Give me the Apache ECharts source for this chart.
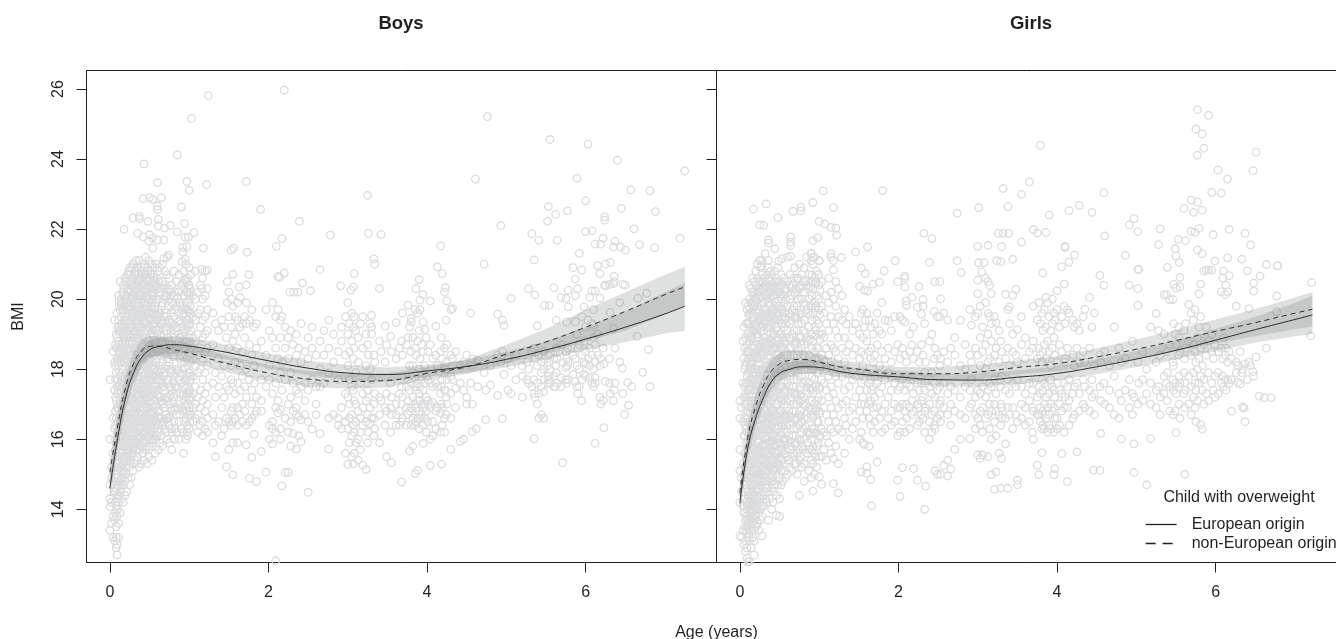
<!DOCTYPE html>
<html><head><meta charset="utf-8"><style>html,body{margin:0;padding:0;background:#fff;overflow:hidden}#c{width:1336px;height:639px}</style>
<script src="https://cdn.jsdelivr.net/npm/echarts@6/dist/echarts.min.js"></script></head><body><div id="c"></div>
<script>
var xTicks=[0,2,4,6];
var yTicks=[14,16,18,20,22,24,26];
// Each row: age, then the BMI values read at that age
var boysDense=[
[0,17.7,16,14.7,14.3,14.07,13.4],[.02,15.2,14.9,14.2,13.6],[.04,18.5,16.6,15.6,14.8,13.8,13.2],[.06,19.4,18.2,17.4,16.3,15.2,14.5,13.7,13.1],
[.08,19,18.6,17.9,17.1,16.6,15.9,15.2,14.6,14.1,13.5,13.2,12.9],[.09,19.6,18.9,18.3,17.5,16.9,16.2,15.5,14.9,14.3,13.8,13,12.7],
[.11,20.1,19.4,18.8,18.1,17.4,16.7,16.1,15.4,14.8,14.2,13.6,13.2],[.13,20.5,19.7,19.1,18.5,17.8,17.2,16.5,15.8,15.2,14.5,13.9],
[.15,19.9,19.3,18.7,18,17.5,16.8,16.2,15.6,14.9,14.3],[.17,20.4,19.6,19,18.4,17.7,17.1,16.4,15.9,15.3,14.7,14.2],
[.19,20.6,20,19.4,18.8,18.2,17.6,17,16.5,16,15.4,14.8,14.4],[.21,20.1,19.5,18.9,18.3,17.8,17.3,16.7,16.1,15.6,15,14.5],
[.23,20.7,20.2,19.7,19.1,18.5,17.9,17.2,16.6,16,15.5,14.9],[.25,20.9,20.4,19.8,19.2,18.6,18,17.4,16.9,16.3,15.7,15.2,14.7],
[.27,20.5,19.9,19.3,18.7,18.1,17.6,17.1,16.5,15.9,15.3,14.9],[.29,21,20.6,20,19.5,18.9,18.3,17.7,17.2,16.7,16.1,15.6,15.1],
[.31,20.3,19.7,19.1,18.6,18,17.5,16.9,16.4,15.8,15.3],[.33,21.1,20.7,20.1,19.6,19,18.4,17.8,17.3,16.7,16.2,15.7,15.4],
[.35,20.9,20.4,19.8,19.3,18.7,18.2,17.6,17,16.5,16,15.5],[.37,21.1,20.5,20,19.5,18.9,18.3,17.7,17.1,16.6,16.1,15.7,15.2],
[.39,20.8,20.2,19.6,19.1,18.5,18,17.4,16.8,16.3,15.8,15.3],[.41,20.6,20.1,19.5,18.9,18.4,17.9,17.3,16.7,16.2,15.6],
[.43,21,20.4,19.9,19.3,18.7,18.1,17.5,17,16.4,15.9,15.4],[.45,21.2,20.7,20.2,19.6,19,18.5,17.9,17.3,16.8,16.2,15.7],
[.47,20.9,20.3,19.8,19.2,18.6,18,17.4,16.9,16.3,15.8,15.3],[.49,21.1,20.6,20,19.4,18.8,18.3,17.7,17.2,16.6,16.1,15.5],
[.51,20.8,20.2,19.6,19.1,18.5,17.9,17.3,16.7,16.2],[.53,21,20.5,19.9,19.3,18.7,18.1,17.6,17,16.5,15.9,15.4],
[.55,20.7,20.1,19.5,19,18.4,17.8,17.2,16.6,16],[.57,20.9,20.4,19.8,19.2,18.6,18,17.5,16.9,16.4,15.6],
[.59,21,20.6,20,19.4,18.9,18.3,17.7,17.1,16.5,16.1],[.61,20.8,20.2,19.7,19.1,18.5,17.9,17.4,16.8,16.2,15.7],
[.63,20.9,20.3,19.6,19,18.4,17.8,17.2,16.6,15.9],[.66,21,20.5,19.9,19.3,18.7,18.2,17.6,17,16.4,15.8],
[.69,20.8,20.3,19.7,19.2,18.6,18,17.4,16.9,16.3],[.72,20.7,20.2,19.5,18.9,18.3,17.7,17.1,16.6,16],
[.75,20.6,20,19.4,18.8,18.2,17.5,17,16.4,15.9],[.78,20.4,19.9,19.3,18.7,18,17.4,16.8,16.2,15.7],
[.81,20.8,20.1,19.5,19,18.4,17.8,17.2,16.5,16],[.84,20.5,19.8,19.2,18.6,18,17.3,16.7,16.2],
[.87,20.7,20.2,19.6,19,18.5,17.7,17,16.5,16],[.9,20.4,19.8,19.3,18.7,18.2,17.6,16.9,16.3],
[.93,20.8,20.1,19.7,19.1,18.6,18,17.5,16.8,16.2,15.6],[.96,21,20.5,19.9,19.4,18.8,18.3,17.7,17.2,16.6,16],
[.98,20.6,20.2,19.7,19.2,18.7,18.1,17.5,17,16.4,16.1],[1,20.9,20.4,20,19.5,19,18.5,17.9,17.4,16.8,16.3],
[1.02,20.7,20.2,19.6,19.1,18.6,18.2,17.7,17.2,16.7],[1.05,20.1,19.5,18.9,18.3,17.8,17.3,16.9,16.5],
[1.08,20,19.4,18.8,18.1,17.5,17,16.6],[1.11,20.2,19.6,19,18.4,17.9,17.2,16.7,16.2],
[1.14,20.4,19.7,19.2,18.6,18,17.4,16.9,16.4],[1.17,20.6,20,19.4,18.9,18.3,17.7,17.1,16.5,16.1],
[1.2,20.8,20.1,19.5,19,18.5,17.9,17.3,16.8,16.3],[1.23,20.3,19.7,19.1,18.6,18.1,17.5,17,16.6,16.2]
];
var boysCore=[
[.07,18.7,18.1,17.7,17.2,16.8,16.4,16,15.7,15.3,14.9,14.5,14.2,13.9],[.1,19.2,18.6,18.2,17.7,17.3,16.9,16.5,16.2,15.8,15.5,15.1,14.7,14.4,14],[.12,19.8,19.2,18.7,18.3,17.9,17.5,17,16.6,16.3,15.9,15.6,15.2,14.8,14.4],[.14,20,19.5,19.1,18.6,18.2,17.8,17.4,17,16.6,16.3,15.9,15.5,15.1,14.7],[.16,20.2,19.7,19.2,18.8,18.4,18,17.6,17.2,16.8,16.4,16.1,15.7,15.3,15],[.18,20.3,19.8,19.4,19,18.6,18.2,17.8,17.4,17,16.6,16.2,15.8,15.5,15.1],[.2,20.5,20,19.6,19.2,18.7,18.3,17.9,17.5,17.1,16.7,16.3,15.9,15.6,15.2],[.22,20.7,20.3,19.9,19.4,19,18.6,18.2,17.7,17.3,16.9,16.5,16.1,15.8,15.4],[.24,20.8,20.5,20,19.6,19.2,18.8,18.4,18,17.6,17.1,16.7,16.3,15.9,15.6],[.26,20.7,20.2,19.7,19.4,18.9,18.5,18.2,17.8,17.3,16.9,16.6,16.2,15.8,15.4],[.28,20.9,20.4,20.1,19.6,19.2,18.8,18.4,18,17.6,17.2,16.8,16.4,16,15.7],[.3,21,20.6,20.2,19.8,19.4,19,18.6,18.2,17.8,17.4,17,16.6,16.2,15.9],[.32,20.8,20.4,19.9,19.5,19.1,18.7,18.3,17.9,17.5,17.1,16.7,16.3,15.9],[.34,20.9,20.5,20,19.7,19.2,18.9,18.5,18.1,17.7,17.3,16.9,16.5,16.1],[.36,20.7,20.2,19.8,19.4,19,18.6,18.2,17.8,17.4,17,16.6,16.3,15.9],[.38,20.6,20.1,19.7,19.2,18.8,18.4,18,17.6,17.2,16.9,16.5,16.1,15.7],[.4,20.9,20.4,20,19.6,19.2,18.7,18.3,17.9,17.5,17.1,16.6,16.2,15.8],[.42,20.7,20.3,19.7,19.4,18.9,18.5,18.1,17.7,17.3,16.9,16.5,16,15.6],[.44,20.9,20.4,20,19.5,19.1,18.7,18.3,17.8,17.4,17,16.6,16.2],[.46,20.6,20.2,19.7,19.3,18.9,18.4,18,17.6,17.2,16.7,16.3,15.9],[.48,20.8,20.4,19.9,19.5,19.1,18.7,18.2,17.8,17.4,16.9,16.5,16.1],[.5,20.5,20,19.6,19.2,18.8,18.3,17.9,17.5,17.1,16.6,16.2,15.8],[.52,20.7,20.3,19.8,19.4,19,18.6,18.1,17.7,17.3,16.8,16.4,16],[.54,20.4,20,19.6,19.1,18.7,18.2,17.8,17.4,16.9,16.5,16.1],[.56,20.6,20.2,19.7,19.3,18.8,18.4,18,17.5,17.1,16.7,16.3],[.58,20.3,19.9,19.5,19.1,18.6,18.2,17.8,17.4,17,16.5,16],[.62,20.5,20,19.5,19.2,18.7,18.1,17.7,17.2,16.8,16.3],[.65,20.3,19.8,19.3,18.9,18.4,18,17.5,17.1,16.6,16.1],[.68,20.4,20,19.5,19,18.4,17.9,17.5,16.9,16.5],[.71,20.1,19.6,19.1,18.6,18.1,17.6,17.2,16.7,16.2],[.74,20.3,19.8,19.2,18.7,18.1,17.7,17.2,16.6],[.77,20.1,19.6,19.1,18.5,17.9,17.5,16.9,16.3],[.82,20.2,19.7,19.1,18.5,17.9,17.5,16.9,16.3],[.88,19.9,19.4,18.9,18.3,17.9,17.3,16.7],[.94,20.3,19.6,19.2,18.8,18.2,17.7,17.1,16.5],[.97,20.2,19.7,19.3,18.8,18.3,17.8,17.3,16.8,16.2],[.99,20.4,19.9,19.4,18.9,18.4,17.9,17.3,16.7],[1.01,20.3,19.8,19.3,18.8,18.4,17.8,17.4,16.9,16.5]
];
var boysFill=[
[.115,19.95,19.05,18.45,17.55,16.85,16.05,15.35,14.65],[.145,19.85,19.25,18.35,17.65,16.95,16.15,15.45,14.85],[.175,20.15,19.15,18.25,17.25,16.75,15.85,15.05],[.205,19.85,19.05,18.55,17.65,16.85,16.15,15.35],[.235,20.25,19.35,18.75,17.85,17.05,16.45,15.65],[.265,20.05,19.15,18.35,17.65,17.15,16.35,15.55],[.295,20.35,19.65,18.75,17.95,17.35,16.55,15.75],[.325,20.25,19.35,18.55,17.75,17.05,16.45,15.95],[.355,20.55,19.55,18.85,18.05,17.25,16.75,16.05],[.385,20.35,19.45,18.65,17.75,17.05,16.35,15.85],[.415,20.45,19.75,18.75,18.15,17.45,16.55,16.15],[.445,20.25,19.35,18.55,17.65,17.15,16.45,15.95],[.475,20.55,19.65,18.85,18.15,17.35,16.65,16.05],[.505,20.35,19.45,18.65,17.75,17.05,16.35],[.535,20.15,19.25,18.45,17.85,17.25,16.75],[.565,20.45,19.55,18.75,18.05,17.35,16.55],[.6,20.35,19.55,18.65,17.95,17.25,16.65],[.64,20.15,19.35,18.55,17.65,17.05,16.45],[.7,20.05,19.35,18.45,17.85,17.15,16.55],[.76,20.25,19.35,18.55,17.95,17.25,16.65],[.8,19.85,19.25,18.35,17.65,17.05],[.86,20.05,19.35,18.75,17.95,17.45,16.85],[.92,20.45,19.55,18.95,18.35,17.85,17.25],[.95,20.55,19.75,19.05,18.55,18.05,17.45,16.95],[1,20.15,19.65,19.25,18.75,18.25,17.65,17.15]
];
var boysSparse=[
[1.24,25.81],[2.2,25.97],[1.03,25.16],[.85,24.12],[.43,23.86],[.6,23.33,22.66,22.56,21.69],[.97,23.36,21.5],[1,23.11],[1.22,23.27],[1.72,23.36],[.42,22.87,21.78],[.5,22.9,21.84],[.54,22.85,21.75,21.46],[.65,22.9],[.9,22.63],[1.9,22.56],[2.39,22.22],[.29,22.32],[.37,22.37,22.3],[.48,22.22],[.61,22.28,22.09],[.69,22.03],[.76,22.11],[.94,22.16],[.18,22],[.35,21.88],[.49,21.66],[.68,21.69,21.16],[.85,21.92],[.95,21.77,21.14],[.99,21.77],[1.06,21.9],[2.78,21.83],[2.17,21.73],[2.1,21.51],[.92,21.48,21.35],[1.18,21.46],[1.53,21.4],[1.56,21.46],[1.73,21.34],[.74,21.26],[.72,21.2],[.91,21.07],
[1.08,20.8],[1.16,20.85,20.3],[1.23,20.83],[1.55,20.71],[1.75,20.7],[2.12,20.65],[2.14,20.62],[2.2,20.75],[2.43,20.46],[2.65,20.84],[2.91,20.38],[1.48,20.5,19.9],[1.72,20.41],[1.63,20.35],[2.27,20.2],[2.32,20.2],[2.37,20.2],[2.53,20.24],[3.04,20.26],
[1.3,19.6,18.7,17.6,16.7,15.9],[1.33,19.3,17.9,17.2,16.4,15.5],[1.37,19.1,18.3,17.5,16.5],[1.41,19.4,17.8,16.9,16.1],[1.44,19.2,18.1,17.2,16.3],[1.47,18.9,17.5,16.6,15.21],[1.5,20.2,19.5,18.6,17.4,16.5,15.7],[1.53,20,19.2,18.1,17.7,16.8,16.4],[1.55,19.8,18.8,17.6,16.9,16.5,15.9,14.98],[1.58,19.5,19,18.2,17.3,16.6],[1.61,19.9,19.4,18.6,17.6,16.9,16.4,15.9],[1.64,20.05,19.2,18.1,17.4,16.7],[1.67,19.3,18.5,17.8,17,16.5],[1.7,19.5,18.9,17.5,16.8],[1.72,19.9,19.3,18,17.2,16.4,15.84],[1.76,19.4,18.7,17.7,16.5,14.88],[1.79,19.7,18.4,17.4,17,16.6,15.48],[1.82,19.2,18.1,17.6,16.7,16.14],[1.85,19.3,18.6,17.2,16.8,14.79],[1.91,18.8,17.7,17.1,16.8,15.65],[1.97,19.7,18.4,17.5,15.06],[2.01,19.1,18.1,17.7,16.4,16],[2.05,19.9,18.9,17.3,16.5,16.3,15.87],[2.09,19.5,18.6,17.6,16.9,16.2,12.53],[2.12,19.7,18.3,17.1,16.75],[2.15,19.4,18.9,17.9,16.85,16.3,16],[2.17,19.5,18.2,17.4,14.67],[2.21,19.2,18.6,17.7,16.6,15.05],[2.25,18.9,18.3,17,16.2,15.05],[2.28,19.1,17.9,17.2,16.5,15.8],[2.31,18.7,17.6,16.8,16.16],[2.35,19,18.4,17.4,16.9,16.7,15.72],[2.38,18.6,17.3,16.65,16.1],[2.41,19.3,18.2,17.5,16.55,15.93],[2.46,18.5,17.6,17.1,16.7],[2.5,18.9,18.3,17.4,16.5,14.48],[2.55,19.2,18.6,17.7,16.29],[2.6,18.4,17.5,17,16.7],[2.65,18.8,18,17.5,16.16],[2.7,19.1,18.4,17.6],[2.76,19.4,18.6,17.9,16.6,15.72],[2.82,19,18.2,16.7],[2.88,18.5,17.7,16.6,16.4],[2.92,19.2,18.8,16.9,16.3],[2.97,19.5,18.4,17.3,16.5,15.6],[3,19.9,19,18.1,17.2,16.3,15.28],
[3.02,19.3,18.5,17.7,17,16.6,15.9],[3.05,19.6,18.8,17.5,16.7,16.1,15.5],[3.07,20.35,19.2,18.3,17.4,16.4,15.3],[3.08,20.73,19.5,18.6,17.1,16.2,15.6],[3.1,19.1,17.9,17,16.5,15.9],[3.13,18.9,18.2,16.8,16,15.4],[3.16,19.3,17.6,16.6,16.2,15.7],[3.19,19.5,18.6,17.3,16.9,16.4,15.26],[3.23,19,18.1,17.1,16.5,15.14],[3.25,22.96,18.7,17.4,16.7,15.9],[3.26,21.88,18.4,17.2,16.2],[3.28,19.3,18,16.9,16.45],[3.3,19.54,19.2,19,17.7,16.6],[3.33,21.15,18.4,17,16.6,16.1],[3.34,21,18.2,17.3,16.3],[3.4,20.3,18.8,17.2,16.7,15.9],[3.42,21.85,18.5,17.1],[3.47,19.23,18.2,16.9,16.4],[3.49,18.7,17.3,16.8,15.5],[3.54,18.94,17.6,16.9,16.2],[3.55,18.5,17.2,16.7,15.33],[3.61,19.33,18.3,17,16.7,16.4],[3.65,18.6,17.3,16.8,16.4],[3.68,18.8,17.5,17,16.5,14.78],[3.69,19.6,18.4,17.2,16.6],[3.74,18.7,17.5,16.9,16.4],[3.76,19.83,18.9,17.7,17.1,16.7],[3.78,19.2,18.1,17.4,16.8,15.66],[3.8,19.45,19.35,18.5,17.6,16.9,16.4],[3.82,18.9,18.1,17.2,16.6,15.8],[3.85,19.7,18.6,17.5,17,16.4,15.02],[3.86,20.3,18.4,17.4,16.9,16.5],[3.88,19.6,18.8,17.6,17.1,16.6,15.11],[3.9,20.56,19.1,18,17.3,16.8,16.3],[3.91,19.97,19.7,18.3,17.5,17.1,16.6],[3.93,18.7,17.7,17,16.7],[3.95,20.13,19.35,18.5,17.4,16.9,16.4,15.88],[3.97,19.13,18.1,17.6,17,16.6],[3.99,18.9,17.8,17.2,16.8,16.2],[4.01,18.5,17.7,17.1,16.5],[4.04,19.95,18.7,17.6,17,16.9,16,15.25],[4.07,18.3,17.5,17.05,16.5,16.1],[4.11,19.23,18.4,17.6,16.8,16.3],[4.13,20.92,18.1,17.5,16.9],[4.17,21.52,18.5,17.3,16.75,16.2],[4.18,18.9,17.5,17,15.29],[4.19,20.73,18.3,17.7,16.9,16.4],[4.22,20.2,18.6,17.4,16.6,16.2],[4.24,19.4,18.2,17.2,16.7],[4.25,19.95,18.7,17.7,17],[4.23,20.33,18,17.4],[4.3,19.7,18.4,17.8,17.3,16.6,15.71],[4.32,19.73,18.3,17.7],[4.36,18.5,17.45,16.9],[4.42,18.1,17.6,15.94],[4.46,18.2,17.4,16],[4.5,18.4,17.2,17],[4.55,19.6,18.1,17.6],[4.57,18.3,17,16.22],[4.61,23.43],[4.62,16.3],[4.64,18.25,17.5],[4.72,21,17.9],[4.74,17.4,16.56],[4.76,25.21],[4.8,18.1,17.55],[4.89,19.57,18.4,17.25],[4.93,22.1,18.2],[4.95,19.4,18.5,16.59],[4.97,19.25,17.85],[5.02,18.3,17.4],[5.06,20.02,18.1,17.3],[5.12,18.4,17.7],[5.2,18.1,17.8,17.2],[5.26,18.2,17.7],[5.28,20.3,18,17.6],[5.32,21.87,18.5,17.5],[5.35,21.12,18.6,17.7,17.3,16.02],[5.36,20.12,18.3,17.2],[5.39,19.24,18.1,17.6,17],[5.41,21.68,18.4,17.3,16.6],[5.44,18.2,17.9,17.5,16.7],[5.47,18.5,18,17.35,16.6],[5.48,19.82,18.3,17.7],[5.52,22.23,18.1,17.6],[5.53,22.64,18.4,17.8],[5.54,19.82,18.2,17.7],[5.55,24.56,18,17.6],[5.6,20.33,18.3,17.8,17.5],[5.62,22.42,18.1,17.5],[5.63,19.4,18.6,17.9],[5.64,21.68,18.3,17.6],[5.69,20.05,18.7,17.75,17.5],[5.71,18.2,15.33],[5.75,20.02,18.5,18.05,17.7],[5.76,19.35,18.3,17.6],[5.77,22.52,18.6,18.1],[5.78,20.26,19.78,18.2,17.7],[5.84,20.9,18.4,17.85],[5.87,20.57,20.1,19.35,18.3,17.65],[5.89,23.45,19,18.1,17.5],[5.9,20.3,18.6,17.3],[5.92,21.31,18.7,18,17.5],[5.95,20.83,19.5,18.4,17.7,17.1],[5.98,19.78,18.8,18.2,17.85],[6,22.81,21.93,19.2,18.5,18.15,17.8],[6.03,24.43,19.4,18.3],[6.05,20.05,18.6,18.1,17.75],[6.08,21.95,20.23,19.3,18.4,17.6],[6.1,19.7,19.25,18.9,18,17.5],[6.12,20.23,18.7,18.2,17.6,15.88],[6.15,20.96,19,18.4],[6.18,20.73,20.03,18.1,17.2],[6.19,21.57,18.3,17],[6.12,21.57,17.75],[6.22,21.74,18.6,17.1],[6.23,16.33,18.15],[6.24,22.35,22.26,20.4],[6.25,21,20.38,17.65],[6.3,20.42,18.3,17.6],[6.31,21.05,19.62,17.3],[6.35,21.49,19.16,20.44,17.1],[6.36,20.65,20.5,17.4],[6.37,21.66,18.6,17.6],[6.4,23.97],[6.43,19.9,18.2],[6.44,21.49],[6.45,22.59],[6.46,18.03],[6.47,20.42,17.3],[6.49,16.71],[6.5,21.4,20.4],[6.53,17.62],[6.54,16.97],[6.57,23.12],[6.58,17.5],[6.61,22.01],[6.65,18.94],[6.66,20.02],[6.68,21.56],[6.72,17.91],[6.77,20.17],[6.79,18.56],[6.81,23.1,17.5],[6.87,21.47],[6.88,22.5],[7.19,21.74],[7.25,23.66]
];
var girlsDense=[
[0,17.1,16.6,15.7,15.1,14.2,13.24],[.02,16.9,14.9,14.5,13.2],[.04,18.8,17.6,16.5,15.3,14.1,13.4],[.05,19.2,18.3,17.2,16.1,15,13.9,13],
[.07,19.9,18.9,18.1,17.3,16.4,15.6,14.8,13.7,13.1,12.8],[.09,19.7,18.7,17.8,17,16.2,15.4,14.6,14,13.5,12.9,12.6],[.1,19.3,18.5,17.6,16.8,16,15.2,14.4,13.7,13.2,12.5],
[.12,20.4,19.6,18.8,18,17.2,16.5,15.7,15,14.3,13.6,13.1,12.5],[.14,19.9,19.2,18.4,17.7,16.9,16.1,15.4,14.7,14,13.4,12.9],[.16,20.6,19.5,18.7,18,17.3,16.6,15.8,15.1,14.5,13.8,13.2],
[.18,20.2,19.4,18.6,17.9,17.1,16.4,15.7,15,14.4,13.7,13.1,12.69],[.2,20.8,20,19.3,18.5,17.8,17,16.3,15.6,14.9,14.2,13.5],[.22,21,19.8,19,18.3,17.5,16.7,16,15.3,14.6,14,13.6],
[.24,20.5,19.7,18.9,18.2,17.4,16.7,15.9,15.2,14.5,13.9,13.4],[.26,20.9,20.2,19.4,18.6,17.8,17.1,16.4,15.6,15,14.3,13.7],[.28,21.1,20.3,19.5,18.8,18,17.3,16.6,15.8,15.1,14.4,13.8,13.24],
[.3,20.6,19.9,19.1,18.4,17.6,16.9,16.2,15.5,14.8,14.1],[.32,21.3,20.1,19.3,18.6,17.9,17.2,16.5,15.8,15.1,14.3],[.34,20.7,20,19.2,18.5,17.7,17,16.3,15.6,14.9,14.2],
[.36,20.9,20.2,19.5,18.7,18,17.3,16.6,15.9,15.2,14.5,13.69],[.38,20.5,19.8,19,18.3,17.6,16.9,16.2,15.5,14.9,14.3],[.4,20.7,20,19.3,18.5,17.8,17.1,16.4,15.7,15,14.6,14],
[.42,20.4,19.7,19,18.2,17.5,16.8,16.1,15.4,14.8,14.2],[.44,20.8,20.1,19.4,18.6,17.9,17.2,16.5,15.8,15.2,14.7],[.46,20.6,19.9,19.2,18.4,17.7,17,16.3,15.6,15,14.4,13.83],
[.48,20.9,20.2,19.5,18.7,18,17.3,16.6,15.9,15.3,14.7],[.5,20.5,19.8,19,18.3,17.5,16.8,16.2,15.5,14.9,14.3,13.8],[.52,20.7,20,19.3,18.6,17.8,17.1,16.4,15.7,15.1,14.69],
[.54,20.4,19.7,18.9,18.2,17.5,16.7,16,15.4,14.8],[.56,20.6,19.9,19.2,18.4,17.7,17,16.3,15.6,15.1],[.58,20.3,19.6,18.9,18.1,17.4,16.6,16,15.3,14.9],
[.6,21.2,20.5,19.8,19.1,18.4,17.6,16.9,16.2,15.5,15],[.63,20.7,20,19.3,18.6,17.8,17.1,16.4,15.7,15.2],[.66,20.4,19.7,19,18.2,17.5,16.8,16.1,15.5,15.1],
[.69,20.9,20.2,19.5,18.7,18,17.3,16.6,15.9,15.3],[.72,20.6,19.8,19.1,18.4,17.7,17,16.3,15.6,15],[.75,21,20.3,19.6,18.9,18.1,17.4,16.7,16,15.4,14.4],
[.78,20.7,20,19.3,18.6,17.8,17.1,16.5,15.8,15.2],[.81,20.9,20.2,19.4,18.7,18,17.2,16.6,16,15.3,14.8],[.84,21.2,20.4,19.7,18.9,18.2,17.5,16.8,16.2,15.6],
[.87,20.7,20,19.2,18.4,17.6,16.9,16.2,15.7,15.1],[.9,21.3,21.1,20.5,19.8,19,18.2,17.4,16.7,16,15.4,14.9],[.92,21,20.3,19.6,18.8,18,17.3,16.6,15.8,15.3,14.52],
[.94,21.2,20.6,19.9,19.2,18.5,17.7,17,16.3,15.6,15],[.97,20.8,20.1,19.4,18.6,17.9,17.1,16.5,15.8,15.2],[1,21.1,20.4,19.7,19,18.3,17.5,16.8,16.1,15.5,14.93],
[1.03,20.5,19.8,19,18.4,17.7,17.1,16.3,15.5,14.71],[1.06,19.6,18.9,18.2,17.6,16.9,16.2,15.7],[1.09,20.1,19.3,18.6,18,17.4,16.7,16.1,15.4],
[1.12,20.6,19.9,19.1,18.4,17.8,17.2,16.5,15.9],[1.15,21.3,21.2,20.2,19.5,18.7,18.1,17.5,16.9,16.3,15.6],[1.18,21.1,20.84,20,19.3,18.6,17.9,17.3,16.7,16.2,15.45,14.73],
[1.21,20.5,19.8,19.1,18.5,17.8,17.1,16.5,15.8],[1.24,20.3,19.5,18.9,18.3,17.6,16.9,16.3,15.3,14.47]
];
var girlsCore=[
[.06,18.6,18,17.5,17,16.6,16.1,15.6,15.2,14.7,14.3,13.9,13.5],[.08,19.3,18.5,18.2,17.6,17.2,16.8,16.3,15.9,15.5,15.1,14.7,14.2,13.8,13.4],[.1,19.8,19,18.3,17.9,17.4,17.1,16.6,16.2,15.8,15.3,14.9,14.5,14.1,13.5],[.12,20,19.3,18.5,18.3,17.7,17.4,16.9,16.2,15.4,15.2,14.7,14.2,13.9,13.3],[.14,20.3,19.6,18.9,18.2,18,17.5,17.1,16.6,16.4,15.9,15.3,15,14.5,14.1,13.7],[.16,20.2,19.1,18.4,17.7,17,16.4,16.1,15.5,14.9,14.2,13.6],[.18,20.5,19.8,19.1,18.4,17.7,17.4,16.8,16.2,15.4,15.2,14.7,14.1,13.4],[.2,20.4,19.7,19,18.3,18,17.4,16.7,16.1,15.3,15.1,14.6,14,13.8],[.22,20.6,20.2,19.5,18.7,18,17.7,17.1,16.4,15.7,15,14.8,14.3],[.24,20.3,19.4,18.6,17.9,17.1,16.4,15.6,14.9,14.2],[.26,20.5,19.8,19.1,18.3,17.5,16.8,16.1,15.4,14.7,14],[.28,20.7,19.9,19.2,18.5,17.7,17,16.3,15.5,14.8,14.1],[.3,20.3,19.5,18.8,18,17.3,16.6,15.8,15.2,14.5],[.32,20.5,19.7,18.9,18.2,17.5,16.8,16.1,15.4,14.7],[.34,20.4,19.6,18.8,18.1,17.4,16.7,16,15.3,14.6],[.36,20.6,19.9,19.2,18.4,17.7,17,16.3,15.6,14.8],[.38,20.2,19.4,18.7,18,17.3,16.6,15.9,15.2],[.4,20.4,19.7,18.9,18.2,17.5,16.8,16.1,15.4,14.8],[.42,20.1,19.4,18.6,17.9,17.2,16.5,15.8,15.1,14.5],[.44,20.5,19.8,19,18.3,17.6,16.9,16.2,15.5],[.46,20.3,19.6,18.8,18.1,17.4,16.7,16,15.3],[.48,20.5,19.8,19.1,18.4,17.7,17,16.3,15.6],[.5,20.2,19.4,18.7,18,17.2,16.5,15.9,15.2],[.52,20.4,19.7,19,18.3,17.5,16.8,16.1,15.4],[.54,20.1,19.3,18.6,17.9,17.1,16.4,15.7],[.56,20.3,19.6,18.8,18.1,17.4,16.7,16],[.58,20,19.3,18.5,17.8,17.1,16.4,15.7],[.62,20.4,19.6,18.9,18.2,17.5,16.8,16.1,15.4],[.65,20.1,19.4,18.6,17.9,17.2,16.5,15.8],[.68,20.6,19.8,19.1,18.4,17.7,17,16.3,15.6],[.71,20.3,19.5,18.8,18.1,17.3,16.6,15.9,15.3],[.74,20.6,20,19.3,18.5,17.8,17.1,16.4,15.7],[.77,20.4,19.7,18.9,18.2,17.5,16.8,16.2,15.5],[.8,20.5,19.9,19.1,18.4,17.6,17,16.3,15.7],[.86,20.3,19.6,18.8,18,17.3,16.6,15.9],[.91,20.7,20.1,19.4,18.6,17.8,17.1,16.3,15.7],[.96,20.5,19.8,19.1,18.3,17.5,16.8,16.2,15.5],[.99,20.7,20,19.3,18.6,17.9,17.2,16.5,15.9]
];
var girlsFill=[
[.11,19.55,18.75,17.95,17.25,16.45,15.65,14.95,14.15,13.45],[.13,19.75,18.95,18.15,17.45,16.75,15.95,15.25,14.45,13.75],[.15,19.65,18.85,18.05,17.25,16.55,15.75,15.05,14.35],[.17,19.85,19.05,18.25,17.55,16.85,16.05,15.35,14.65,13.95],[.19,20.05,19.25,18.45,17.65,16.95,16.25,15.45,14.75,14.05],[.21,19.95,19.15,18.35,17.55,16.85,16.15,15.35,14.55],[.23,20.15,19.35,18.55,17.75,17.05,16.25,15.55,14.85],[.25,20.25,19.45,18.65,17.95,17.25,16.55,15.75,15.05,14.35],[.27,20.05,19.25,18.45,17.65,16.95,16.15,15.45,14.65],[.29,20.35,19.55,18.75,17.95,17.25,16.55,15.85,15.15],[.31,20.15,19.35,18.55,17.85,17.15,16.35,15.65,14.95],[.33,20.35,19.55,18.75,18.05,17.35,16.65,15.85,15.25],[.35,20.15,19.45,18.65,17.85,17.15,16.45,15.75,15.05],[.37,20.35,19.55,18.85,18.15,17.45,16.75,16.05,15.35],[.39,20.05,19.25,18.55,17.75,17.05,16.35,15.65],[.41,20.25,19.55,18.75,18.05,17.35,16.65,15.95,15.25],[.45,20.15,19.45,18.65,17.95,17.25,16.55,15.85,15.15],[.49,20.35,19.55,18.85,18.15,17.45,16.75,16.05,15.45],[.53,20.15,19.45,18.65,17.95,17.25,16.55,15.85],[.57,20.25,19.45,18.75,18.05,17.35,16.65,15.95],[.64,20.35,19.55,18.85,18.05,17.35,16.65,15.95],[.7,20.15,19.45,18.75,18.05,17.25,16.55,15.85],[.76,20.35,19.55,18.75,18.05,17.25,16.65,15.95],[.83,20.55,19.85,19.05,18.35,17.65,16.95,16.35],[.89,20.35,19.55,18.85,18.15,17.45,16.85,16.15],[.95,20.45,19.75,18.95,18.25,17.55,16.85,16.15],[1.01,20.25,19.55,18.85,18.15,17.45,16.75,16.05]
];
var girlsSparse=[
[1.05,23.09],[1.8,23.1],[.33,22.72],[.17,22.57,20.11,19.92,19.73,19.5],[.92,22.76,21.67],[1.18,22.62],[.77,22.63,22.52],[.67,22.51],[.48,22.33],[.25,22.12,21.11],[.3,22.11],[1,22.22,21.11],[1.07,22.15],[1.15,22.05],[1.21,22.03],[1.22,21.83],[2.74,22.45,21.1],[3.01,22.61,21.04],[3.32,23.16,21.88],[3.38,22.64],[3.55,22.99,21.63],[2.32,21.88],[2.42,21.73],[3.26,21.88],[3.39,21.88],[3,21.51,20.54],[3.13,21.54],[3.3,21.5],[1.61,21.49,20.23],[1.46,21.35,19.31],[1.96,21.1],[2.39,21.05],[3.08,21.04],[3.24,21.1],[3.29,21.07],[3.44,21.14,20.11],[3.05,20.78],[2.79,20.76],[1.82,20.81],[1.53,20.89,19.6],[1.58,20.73,19.4],[.64,21.78,21.63,21.53,21.23],[.36,21.69,21.6,21.11],[.44,21.44],[.98,21.76],[.9,21.3],[.93,21.2],[1.28,21.19],[.53,21.16],[.49,21.09],[.27,20.95],[.38,20.79],[.29,20.49],[.41,20.4,20.33],
[1.29,20.1,19.4,18.6,17.8,17,16.2],[1.32,19.7,18.9,18.2,17.4,16.6,15.6],[1.34,19.29,18.5,17.9,17.1,16.4],[1.38,19.5,18.7,17.5,16.8,16],[1.42,19.1,18.4,17.7,16.9,16.3],[1.46,19.3,18.6,17.8,17.2,16.5],[1.51,20.37,19,18.3,17.4,16.8,16],[1.53,18.5,17.6,17,16.2,15.07],[1.55,19.7,18.9,18.1,17.2,16.6,15.9],[1.57,20.26,19.2,18.4,17.7,17,15.85],[1.6,19.6,18.8,17.9,17.4,16.8,15.21,15.03],[1.63,19.4,18.5,17.6,17,16.6,15.8],[1.65,19.2,18.3,17.7,17.1,16.4,14.85],[1.66,14.1,18.6,17.4],[1.68,20.43,19,18.2,17.5,16.9,16.2],[1.7,19.3,18.4,17.8,17.2,16.5],[1.73,19.6,18.7,17.6,15.35,16.9],[1.76,20.48,19.1,18.1,17.3,16.6],[1.79,19.9,19,18.5,17.5,16.8,16.2],[1.83,19.4,18.3,17.7,17,16.3],[1.87,19.38,18.6,17.9,17.2,16.6],[1.91,19.1,18.2,17.4,16.8,16.4],[1.95,19.5,18.5,17.6,17,16.5],[1.99,20.5,18.7,17.4,16.9,16.1,14.83],[2.02,19.5,18.3,17.5,16.9,16.2,14.37],[2.05,19.4,18.6,17.7,17,16.5,15.19],[2.08,20.66,20.6,20.35,19.35,18.4,17.4,16.8,16.2],[2.1,19.95,19.83,18.2,17.6,17,16.6],[2.14,19,18.5,17.5,16.9,16.3],[2.17,20.05,18.7,17.8,17.1,16.7],[2.19,19.2,18.3,17.3,16.8,15.16],[2.24,19.77,18.5,17.6,17,16.4,14.83],[2.26,20.36,18.2,17.4,16.9,16.5],[2.29,19.57,18.7,17.6,17.1,16.7],[2.31,19.99,19.8,18.4,17.2,16.6],[2.33,19.3,17.9,17.4,16.8,16.2,14],[2.34,18.2,17.6,16.9,14.66],[2.39,18.8,17.5,17,16.5,16],[2.42,19,17.9,17.3,16.7,16.2],[2.45,19.65,18.3,17.6,16.8,16.4],[2.46,20.5,18.6,17.2,16.3,15.1],[2.49,19.5,18.4,17.4,16.6,15],[2.52,20.5,19.5,18.1,17.5,17,16.7],[2.53,20.01,18.3,17.1,16.5,15],[2.57,19.6,18.5,17.6,16.9,15.25],[2.62,19.4,18.2,17.3,16.7,15.4,14.95],[2.66,18.6,17.5,17,16.4,15.15],[2.71,18.9,18.4,17.4,16.8,15.71],[2.78,19.4,18.1,17.2,16.7,16],[2.84,18.7,18,17.5,16.6],[2.9,19.7,18.4,17.4,16.9,16.02],[2.92,19.26,18.2,17.7,17],[2.97,19.5,18.6,17.2,16.7,16.3],[3,20.16,19.6,18.4,17.4,16.6,15.55],[3.03,19.8,18.9,18.1,17.3,16.8,16.4,15.45],[3.06,19.2,18.5,17.5,16.9,16.2,15.55],[3.1,20.6,19.9,18.7,18,17.2,16.6],[3.13,20.5,19.6,19,18.2,17.4,16.7,15.5],[3.15,20.4,19.5,18.3,17.6,17,16.3],[3.17,20.16,19.3,18.8,17.5,16.8,16,14.99],[3.21,19.5,18.4,17.7,17,16.5,14.57],[3.23,19.33,18.6,17.3,16.8,16.1,15.07],[3.27,19.1,18.2,17.7,16.7,15.6],[3.29,18.8,17.5,17,16.4,14.6],[3.3,18.5,17.8,16.9,16.6,15.45],[3.35,20.14,18.3,17.4,16.6,15.87],[3.38,19.7,18.6,17.7,16.9,14.6],[3.4,19.78,19.3,18.1,17.3,16.7],[3.44,19,18.5,17.6,16.9,16.3],[3.48,20.28,18.4,17.5,16.7],[3.5,19.13,18.2,17.7,16.5,14.83,14.7],[3.55,19.5,18.7,17.5,17,16.6],[3.6,18.9,18.3,17.3,16.9,16.4],[3.65,23.35,18.5,17.6,17.1,16.5],[3.69,18.6,17.4,16.9,16.2],[3.7,21.99,19.8,18.8,17.6,16.8,16],[3.75,21.89,19.4,18.3,17.2,16.7,15.26],[3.77,19.9,18.6,17.5,16.7,14.99],[3.79,24.39,19.3,18.4,17.3,16.9,16.5],[3.81,19.6,18.2,17.7,16.7,16.3,15.62],[3.82,20.75,19.1,18.5,17.4,16.8,16.4],[3.84,19.7,18.7,17.6,17,16.3],[3.86,21.91,20.05,19.2,18.3,17.2,16.6],[3.88,19.9,18.8,17.5,16.9,16.2],[3.9,22.4,19.5,18.5,17.3,16.7,16.4],[3.92,19.1,18.1,17.7,17,16.3],[3.94,20,19.3,18.6,17.5,16.8],[3.96,19.6,18.9,17.4,16.9,16.2,14.99],[3.97,19.4,18.4,17.2,16.6,15.16],[4,20.24,19.7,18.2,17.6,16.6,16.3],[4.03,19.2,18.7,17.4,17,16.4],[4.06,20.92,19.5,18.5,17.3,16.8,15.59],[4.09,20.43,19.8,18.2,17.6,16.9,16.2],[4.1,21.51,21.5,21.48,19.3,18.3,17.2],[4.13,19.7,18.6,17.5,16.9,14.79],[4.15,22.53,21.06,19.6,17.7,17.1,16.4],[4.2,19.4,18.4,17.3,16.6],[4.22,21.26,19.2,18.1,17.5,16.7],[4.25,19.3,18.6,17.6,15.64],[4.28,22.68,19.1,18.2,17.3,16.8],[4.33,19.5,18.5,17.7,17],[4.35,19.71,18.2,17.5,16.9],[4.41,20.05,18.6,17.4,16.8],[4.44,22.48,19.2,17.7,17.2],[4.47,19.61,18.1,17.3,16.7],[4.46,15.12],[4.54,20.68,18.4,17.5,15.11],[4.55,16.17,17.1,18.2],[4.59,23.04,20.4,17.6],[4.6,21.81,18.5,17],[4.66,18.1,17.4,16.9],[4.72,19.2,17.8,16.7],[4.78,18.6,17.3,16.6],[4.81,16.01,18.2,17.1],[4.86,21.25,18.3,17.4],[4.91,22.12,20.4,17.7,16.9],[4.95,18.8,17.3,16.7],[4.97,22.3,17.2,15.87,15.05],[5.02,21.93,20.85,20.3,19.82,18.2,17],[5.03,20.85,17.6],[5.08,18.5,17.7,17.1],[5.13,14.7,18,17.3],[5.18,19.2,17.6,16.02,17],[5.25,19.59,18.2,17.4,16.9],[5.28,21.56,19.1,17.5],[5.3,22.01,18.4,17.2,16.7],[5.35,20.13,19,17.8,17.3],[5.38,20.13,18.5,17.6],[5.39,20.91,17.9,17.1],[5.42,19.99,18.7,17.5,16.8],[5.46,19.99,18.2,17.7,16.7],[5.47,20.42,19.3,18.1,17.4],[5.49,21.44,19,17.6,16.8],[5.5,21.23,20.32,18.7,17.3,16.19],[5.53,21.71,19.2,18.4,17.5],[5.54,21.05,18.9,17.8,17],[5.55,20.62,20.35,18.5,17.6,16.6],[5.6,22.59,19.1,17.9,17.3],[5.61,15,18.3,17.6,16.9],[5.62,21.67,19.3,18.6,17.4],[5.66,19.85,18.8,17.8,17],[5.69,22.83,21.94,19.6,18.4,17.5,16.7],[5.72,22.48,19.4,18.7,17.9,17.2],[5.74,21.91,19.7,18.5,17.6,16.9],[5.75,24.86,18.2,17.4,16.5],[5.77,25.41,24.11,22.77,21.4,18.9,18,17.1],[5.79,22.02,20.15,19.2,18.3,17.6],[5.81,20.43,19.5,18.6,17.8,16.42],[5.83,24.72,22.54,21.3,18.1,17.4,16.29],[5.85,24.31,20.8,18.7,17.7,17],[5.88,20.83,19.2,18.4,17.3],[5.91,25.25,20.83,18.8,17.9,17.1],[5.95,23.05,20.83,19,18.5,17.6],[5.97,21.84,18.3,17.4],[5.99,21.09,18.7,17.8,17.2],[6.03,23.69,18.5,17.9,17.3],[6.07,23.03,20.21,18.6,17.6],[6.09,20.61,18.3,17.8],[6.1,20.8,18.9,17.5],[6.12,20.13,18.4,17.7],[6.13,20.4,18.6,17.4],[6.15,23.43,21.18,20.21,18.2,17.7],[6.17,21.99,20.67,18.5,17.6],[6.2,16.8,18.3,17.7],[6.26,19.8,18.2,17.9],[6.28,17.63,18.1],[6.31,18.5,17.58],[6.33,21.14,17.9],[6.34,16.92,18],[6.36,16.89],[6.37,21.88,16.5,18.15],[6.4,20.81,17.7],[6.42,19.73,18.2],[6.44,21.55,18.1],[6.47,23.67,17.93],[6.48,20.46,20.23,17.8],[6.51,24.2,18.35],[6.55,17.23],[6.56,20.66],[6.61,17.19],[6.64,20.99,18.6],[6.7,17.19],[6.77,20.09,19.64],[6.78,20.96,20.95],[7.21,20.47],[7.2,18.95]
];

var ages=[0,.1,.2,.3,.4,.5,.6,.8,1,1.25,1.5,2,2.5,3,3.5,4,4.5,5,5.5,6,6.5,7,7.25];
var boysEuropean=[14.6,16.05,17.2,17.9,18.33,18.55,18.64,18.7,18.66,18.57,18.47,18.24,18.03,17.89,17.85,17.95,18.08,18.28,18.55,18.86,19.2,19.58,19.8];
var boysEuropeanHi=[14.9,16.35,17.5,18.2,18.6,18.82,18.9,18.95,18.9,18.8,18.68,18.45,18.24,18.12,18.05,18.12,18.26,18.5,18.8,19.2,19.65,20.2,20.47];
var boysEuropeanLo=[14.3,15.75,16.9,17.6,18.06,18.3,18.4,18.46,18.44,18.35,18.26,18.03,17.83,17.68,17.65,17.78,17.9,18.05,18.28,18.55,18.78,19.02,19.1];
var boysNonEuropean=[15.05,16.4,17.5,18.17,18.52,18.65,18.66,18.56,18.46,18.3,18.15,17.89,17.72,17.65,17.68,17.88,18.07,18.43,18.78,19.2,19.65,20.13,20.35];
var boysNonEuropeanHi=[15.4,16.75,17.85,18.5,18.85,18.95,18.95,18.84,18.72,18.55,18.38,18.12,17.95,17.87,17.88,18.06,18.28,18.7,19.15,19.7,20.2,20.7,20.92];
var boysNonEuropeanLo=[14.7,16.05,17.15,17.85,18.2,18.35,18.38,18.28,18.2,18.05,17.9,17.65,17.5,17.44,17.48,17.7,17.86,18.16,18.44,18.8,19.1,19.56,19.8];
var girlsAges=[0,.1,.2,.3,.4,.5,.6,.8,1,1.25,1.5,2,2.5,3,3.5,4,4.5,5,5.5,6,6.5,7,7.22];
var girlsEuropean=[14.17,15.75,16.6,17.2,17.65,17.88,17.98,18.07,18.05,17.94,17.86,17.78,17.7,17.69,17.77,17.88,18.07,18.29,18.54,18.83,19.13,19.42,19.55];
var girlsEuropeanHi=[14.45,16,16.85,17.45,17.88,18.1,18.2,18.28,18.24,18.11,18.02,17.95,17.88,17.88,17.97,18.08,18.28,18.52,18.8,19.15,19.5,19.9,20.1];
var girlsEuropeanLo=[13.9,15.5,16.35,16.95,17.42,17.66,17.76,17.86,17.86,17.77,17.7,17.61,17.52,17.5,17.57,17.68,17.86,18.06,18.28,18.51,18.76,18.94,19];
var girlsNonEuropean=[14.46,16.05,16.95,17.55,17.95,18.15,18.24,18.28,18.2,18.07,18,17.87,17.87,17.92,18.05,18.16,18.35,18.57,18.82,19.08,19.33,19.6,19.71];
var girlsNonEuropeanHi=[14.8,16.4,17.3,17.9,18.3,18.47,18.54,18.55,18.44,18.26,18.18,18.06,18.06,18.13,18.25,18.38,18.6,18.85,19.12,19.42,19.72,20.05,20.2];
var girlsNonEuropeanLo=[14.12,15.7,16.6,17.2,17.6,17.83,17.94,18.01,17.96,17.88,17.82,17.68,17.68,17.71,17.85,17.94,18.1,18.29,18.52,18.74,18.94,19.15,19.22];

function flatten(rows){var out=[];rows.forEach(function(r){for(var i=1;i<r.length;i++)out.push([r[0],r[i]]);});return out;}
function zip(x,y){return x.map(function(v,i){return [v,y[i]];});}
var ink='#231f20',font='"Liberation Sans",Arial,sans-serif';
function ribbon(idx,x,hi,lo){
  var d=zip(x,hi).concat(zip(x,lo).reverse());
  return {type:'custom',xAxisIndex:idx,yAxisIndex:idx,z:3,silent:true,clip:true,data:d,encode:{x:0,y:1},
    renderItem:function(p,api){
      if(p.dataIndex!==0)return null;
      return {type:'polygon',shape:{points:d.map(function(q){return api.coord(q);})},style:{fill:'rgba(110,112,115,0.22)'}};
    }};
}
function scatter(idx,rows){
  return {type:'scatter',xAxisIndex:idx,yAxisIndex:idx,z:2,silent:true,symbol:'circle',symbolSize:7.5,data:flatten(rows),
    itemStyle:{color:'rgba(0,0,0,0)',borderColor:'#dbdcde',borderWidth:1.3,opacity:1}};
}
function curve(idx,name,x,y,dashed){
  return {type:'line',name:name,xAxisIndex:idx,yAxisIndex:idx,z:4,silent:true,symbol:'none',smooth:.5,data:zip(x,y),
    lineStyle:{color:'#2b2b2b',width:1,type:dashed?[5,4]:'solid'},itemStyle:{color:'#2b2b2b'}};
}
function xAxis(g){return {type:'value',gridIndex:g,min:-.295,max:7.65,splitLine:{show:false},
  axisLine:{onZero:false,lineStyle:{color:ink,width:1}},
  axisTick:{length:10,customValues:xTicks,lineStyle:{color:ink}},
  axisLabel:{customValues:xTicks,margin:22,color:ink,fontSize:16,fontFamily:font}};}
function yAxis(g){var a={type:'value',gridIndex:g,min:12.48,max:26.53,splitLine:{show:false},
  axisLine:{onZero:false,show:true,lineStyle:{color:ink,width:1}},
  axisTick:{show:true,length:10,customValues:yTicks,lineStyle:{color:ink}},
  axisLabel:{show:g===0,customValues:yTicks,rotate:90,margin:20,color:ink,fontSize:16,fontFamily:font}};
  if(g===0){a.name='BMI';a.nameLocation='middle';a.nameGap=60;a.nameRotate=90;a.nameTextStyle={color:ink,fontSize:16,fontFamily:font};}
  return a;}
var hidden={color:'rgba(0,0,0,0)',borderColor:'rgba(0,0,0,0)',borderWidth:0,opacity:0};
var option={animation:false,backgroundColor:'#fff',
 title:[
  {text:'Boys',left:401,top:14,padding:0,textAlign:'center',textStyle:{fontSize:18.5,fontWeight:'bold',color:ink,fontFamily:font}},
  {text:'Girls',left:1031,top:14,padding:0,textAlign:'center',textStyle:{fontSize:18.5,fontWeight:'bold',color:ink,fontFamily:font}},
  {text:'Age (years)',left:716.5,top:625,padding:0,textAlign:'center',textStyle:{fontSize:16,fontWeight:'normal',color:ink,fontFamily:font}},
  {text:'Child with overweight',left:1239,top:490,padding:0,textAlign:'center',textStyle:{fontSize:16,fontWeight:'normal',color:ink,fontFamily:font}}
 ],
 legend:{orient:'vertical',left:1145,top:516.5,itemWidth:31,itemHeight:16,itemGap:3,padding:0,selectedMode:false,
  data:[{name:'European origin',itemStyle:hidden,lineStyle:{width:1.3,type:'solid',color:ink}},{name:'non-European origin',itemStyle:hidden,lineStyle:{width:1.3,type:[10,7],color:ink}}],
  textStyle:{color:ink,fontSize:16,fontFamily:font,padding:[0,0,0,10]}},
 grid:[{left:86.5,top:70.5,width:630,height:492,show:true,borderColor:ink,borderWidth:1,backgroundColor:'transparent',outerBoundsMode:'none'},
       {left:716.5,top:70.5,width:630,height:492,show:true,borderColor:ink,borderWidth:1,backgroundColor:'transparent',outerBoundsMode:'none'}],
 xAxis:[xAxis(0),xAxis(1)],yAxis:[yAxis(0),yAxis(1)],
 series:[
  scatter(0,boysDense),scatter(0,boysCore),scatter(0,boysFill),scatter(0,boysSparse),scatter(1,girlsDense),scatter(1,girlsCore),scatter(1,girlsFill),scatter(1,girlsSparse),
  ribbon(0,ages,boysEuropeanHi,boysEuropeanLo),ribbon(0,ages,boysNonEuropeanHi,boysNonEuropeanLo),
  ribbon(1,girlsAges,girlsEuropeanHi,girlsEuropeanLo),ribbon(1,girlsAges,girlsNonEuropeanHi,girlsNonEuropeanLo),
  curve(0,'European origin',ages,boysEuropean,false),curve(0,'non-European origin',ages,boysNonEuropean,true),
  curve(1,'European origin',girlsAges,girlsEuropean,false),curve(1,'non-European origin',girlsAges,girlsNonEuropean,true)
 ]};
echarts.init(document.getElementById('c'),null,{renderer:'canvas'}).setOption(option);
</script></body></html>
